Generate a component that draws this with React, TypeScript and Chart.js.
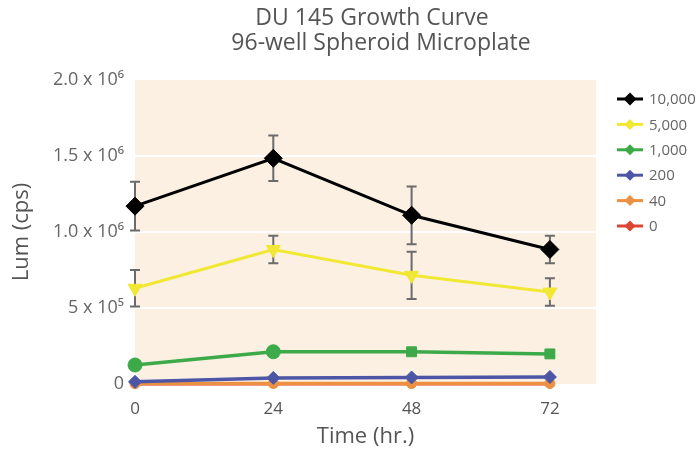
import React, { useEffect, useRef } from "react";
import { Chart, registerables } from "chart.js";

Chart.register(...registerables);

const titleLines = ["DU 145 Growth Curve", "96-well Spheroid Microplate"];
const timePoints = [0, 24, 48, 72];
const xTickValues = [0, 24, 48, 72];
const yTickValues = [0, 500000, 1000000, 1500000, 2000000];
const yTickLabels = ["0", "5 x 10⁵", "1.0 x 10⁶", "1.5 x 10⁶", "2.0 x 10⁶"];

const seriesLabels = ["10,000", "5,000", "1,000", "200", "40", "0"];
const lum10000 = [1170000, 1485000, 1110000, 885000];
const err10000 = [160000, 150000, 190000, 90000];
const lum5000 = [630000, 885000, 715000, 605000];
const err5000 = [120000, 90000, 155000, 90000];
const lum1000 = [125000, 212000, 212000, 198000];
const err1000 = [0, 0, 20000, 20000];
const lum200 = [14000, 40000, 43000, 46000];
const err200 = [0, 0, 0, 0];
const lum40 = [2000, 3000, 3000, 3000];
const err40 = [0, 0, 0, 0];
const lum0 = [0, 0, 0, 0];
const err0 = [0, 0, 0, 0];

const seriesColors = ["#000000", "#F0E833", "#3DAA4A", "#4D56A6", "#EE9042", "#DD4535"];

const FONT = "'Open Sans', 'DejaVu Sans', sans-serif";

const plotBg = {
  id: "plotBg",
  beforeDraw(chart: any) {
    const { ctx, chartArea } = chart;
    ctx.save();
    ctx.fillStyle = "#FCF0E3";
    ctx.fillRect(chartArea.left, chartArea.top, chartArea.right - chartArea.left, chartArea.bottom - chartArea.top);
    ctx.restore();
  },
};

const titleDraw = {
  id: "titleDraw",
  afterDraw(chart: any) {
    const { ctx } = chart;
    ctx.save();
    ctx.fillStyle = "#555555";
    ctx.font = `23px ${FONT}`;
    ctx.textAlign = "center";
    ctx.textBaseline = "middle";
    ctx.fillText(titleLines[0], 372, 18);
    ctx.fillText(titleLines[1], 381, 43);
    ctx.restore();
  },
};

const errorBars = {
  id: "errorBars",
  beforeDatasetsDraw(chart: any) {
    const { ctx } = chart;
    const xs = chart.scales.x;
    const ys = chart.scales.y;
    ctx.save();
    ctx.strokeStyle = "#6b6b6b";
    ctx.lineWidth = 2;
    chart.data.datasets.forEach((ds: any) => {
      const errs: number[] = ds.errors || [];
      ds.data.forEach((p: any, i: number) => {
        const e = errs[i];
        if (!e) return;
        const x = xs.getPixelForValue(p.x);
        const yT = ys.getPixelForValue(p.y + e);
        const yB = ys.getPixelForValue(p.y - e);
        ctx.beginPath();
        ctx.moveTo(x, yT);
        ctx.lineTo(x, yB);
        ctx.moveTo(x - 5, yT);
        ctx.lineTo(x + 5, yT);
        ctx.moveTo(x - 5, yB);
        ctx.lineTo(x + 5, yB);
        ctx.stroke();
      });
    });
    ctx.restore();
  },
};

const customLegend = {
  id: "customLegend",
  afterDraw(chart: any) {
    const { ctx } = chart;
    ctx.save();
    const items = chart.data.datasets.slice();
    items.forEach((ds: any, i: number) => {
      const y = 99 + i * 25.4;
      const cx = 630;
      ctx.strokeStyle = ds.borderColor;
      ctx.lineWidth = 3;
      ctx.beginPath();
      ctx.moveTo(617, y);
      ctx.lineTo(643, y);
      ctx.stroke();
      ctx.fillStyle = ds.borderColor;
      const r = i === 0 ? 6.5 : 5.5;
      ctx.beginPath();
      ctx.moveTo(cx, y - r);
      ctx.lineTo(cx + r, y);
      ctx.lineTo(cx, y + r);
      ctx.lineTo(cx - r, y);
      ctx.closePath();
      ctx.fill();
      ctx.fillStyle = "#666666";
      ctx.font = `15px ${FONT}`;
      ctx.textBaseline = "middle";
      ctx.textAlign = "left";
      ctx.fillText(ds.label, 649, y + 1);
    });
    ctx.restore();
  },
};

export default function App() {
  const ref = useRef<HTMLCanvasElement>(null);
  useEffect(() => {
    if (!ref.current) return;
    const mk = (label: string, data: number[], errors: number[], color: string, style: any, radius: number, bw: number) => ({
      label,
      data: data.map((v, i) => ({ x: timePoints[i], y: v })),
      errors,
      borderColor: color,
      backgroundColor: color,
      pointBackgroundColor: color,
      pointBorderColor: color,
      pointStyle: style,
      pointRadius: radius,
      pointBorderWidth: 1,
      borderWidth: bw,
      tension: 0,
      clip: false,
    });
    const datasets: any[] = [
      mk(seriesLabels[0], lum10000, err10000, seriesColors[0], "rectRot", 9, 3),
      mk(seriesLabels[1], lum5000, err5000, seriesColors[1], "triangle", 8, 3),
      mk(seriesLabels[2], lum1000, err1000, seriesColors[2], ["circle", "circle", "rect", "rect"], 7, 3.5),
      mk(seriesLabels[3], lum200, err200, seriesColors[3], "rectRot", 6.5, 3.5),
      mk(seriesLabels[4], lum40, err40, seriesColors[4], "circle", 5, 3.5),
      mk(seriesLabels[5], lum0, err0, seriesColors[5], "circle", 4, 3),
    ];
    datasets[1].pointRotation = 180;
    datasets.forEach((d, i) => {
      d.order = i;
    });
    const chart = new Chart(ref.current, {
      type: "line",
      data: { datasets },
      plugins: [plotBg, errorBars, customLegend, titleDraw],
      options: {
        animation: false,
        responsive: false,
        layout: { padding: { left: 0, right: 104, top: 80, bottom: 0 } },
        plugins: {
          legend: { display: false },
          tooltip: { enabled: false },
          title: { display: false },
        },
        scales: {
          x: {
            type: "linear",
            min: 0,
            max: 80,
            afterBuildTicks: (s: any) => {
              s.ticks = xTickValues.map((v) => ({ value: v }));
            },
            afterFit: (s: any) => {
              s.height = 66;
            },
            grid: { display: false, drawTicks: false },
            border: { display: false },
            ticks: {
              color: "#555555",
              font: { family: FONT, size: 17 },
              padding: 15,
              maxRotation: 0,
              callback: (v: any) => String(v),
            },
            title: {
              display: true,
              text: "Time (hr.)",
              color: "#555555",
              font: { family: FONT, size: 22 },
              padding: { top: 0, bottom: 0 },
            },
          },
          y: {
            min: 0,
            max: 2000000,
            afterBuildTicks: (s: any) => {
              s.ticks = yTickValues.map((v) => ({ value: v }));
            },
            afterFit: (s: any) => {
              s.width = 135;
            },
            grid: {
              color: (c: any) => (c.tick && c.tick.value > 0 && c.tick.value < 2000000 ? "#FFFFFF" : "rgba(0,0,0,0)"),
              lineWidth: 2,
              drawTicks: false,
            },
            border: { display: false },
            ticks: {
              color: "#666666",
              font: { family: FONT, size: 18 },
              padding: 11,
              callback: (v: any) => {
                const idx = yTickValues.indexOf(Number(v));
                return idx >= 0 ? yTickLabels[idx] : "";
              },
            },
            title: {
              display: true,
              text: "Lum (cps)",
              color: "#555555",
              font: { family: FONT, size: 22 },
              padding: { top: 9, bottom: 0 },
            },
          },
        },
      } as any,
    });
    return () => chart.destroy();
  }, []);
  return (
    <div style={{ position: "fixed", left: 0, top: 0, width: 700, height: 450, background: "#fff" }}>
      <canvas ref={ref} width={700} height={450} style={{ width: 700, height: 450 }} />
    </div>
  );
}
